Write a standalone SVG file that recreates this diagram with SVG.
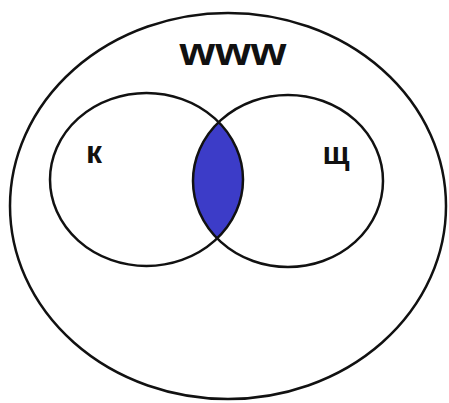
<svg xmlns="http://www.w3.org/2000/svg" width="449" height="403" viewBox="0 0 449 403">
<style>
.ring{fill:none;stroke:#111;stroke-width:2.5}
.lbl{font-family:"Liberation Sans",Arial,sans-serif;font-weight:bold;fill:#111}
</style>
<defs>
<clipPath id="clipL"><ellipse cx="146.5" cy="179.5" rx="96.5" ry="86.5"/></clipPath>
</defs>
<rect width="449" height="403" fill="#fff"/>
<g id="www">
<ellipse class="ring" cx="228" cy="206" rx="218" ry="193"/>
<text class="lbl" x="233" y="65" font-size="38" text-anchor="middle" textLength="107" lengthAdjust="spacingAndGlyphs">www</text>
</g>
<g id="lens">
<ellipse cx="288" cy="181" rx="95" ry="86" fill="#3c3cc8" clip-path="url(#clipL)"/>
</g>
<g id="k">
<ellipse class="ring" cx="146.5" cy="179.5" rx="96.5" ry="86.5"/>
<text class="lbl" x="94" y="163" font-size="32" text-anchor="middle">к</text>
</g>
<g id="sh">
<ellipse class="ring" cx="288" cy="181" rx="95" ry="86"/>
<text class="lbl" x="336" y="164" font-size="32" text-anchor="middle">щ</text>
</g>
</svg>
